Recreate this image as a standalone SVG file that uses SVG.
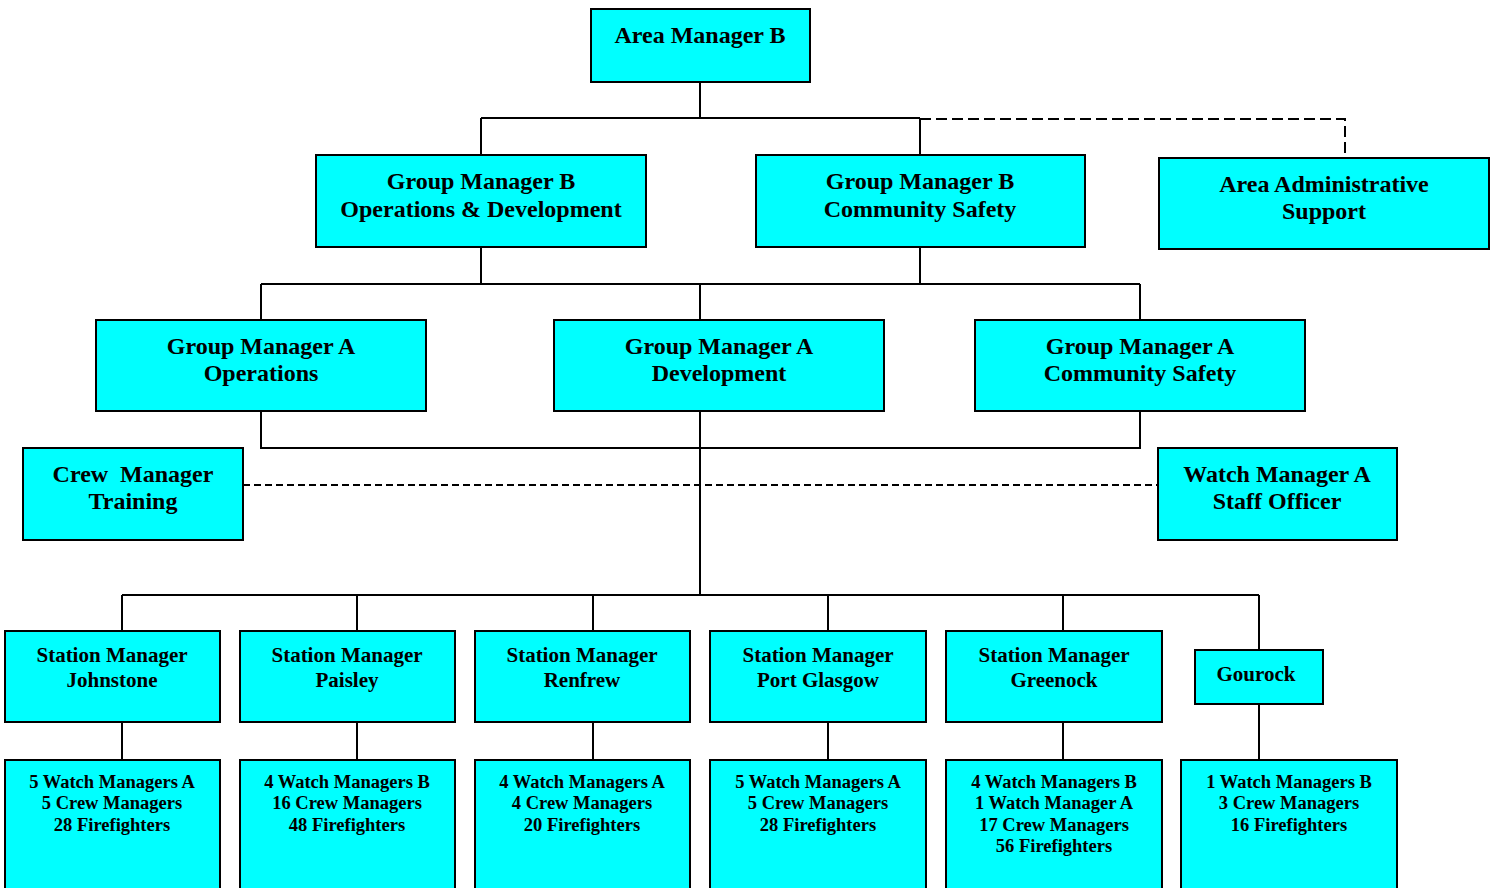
<svg xmlns="http://www.w3.org/2000/svg" width="1499" height="888" viewBox="0 0 1499 888">
<style>
.box{fill:#00ffff;stroke:#000;stroke-width:2}
text{font-family:"Liberation Serif","Times New Roman",serif;font-weight:bold;fill:#000;text-anchor:middle}
.t1{font-size:24px}
.t2{font-size:21px}
.t3{font-size:18.5px}
.ln{fill:none;stroke:#000;stroke-width:2}
.ds{fill:none;stroke:#000;stroke-width:2;stroke-dasharray:11,5}
.ds2{fill:none;stroke:#000;stroke-width:2;stroke-dasharray:7,4}
</style>
<rect width="1499" height="888" fill="#fff"/>
<g id="connectors">
<path class="ln" d="M700 82V118M481 118H920M481 118V155M920 118V155"/>
<path class="ds" d="M920 119H1345V158"/>
<path class="ln" d="M481 247V284M920 247V284M261 284H1140M261 284V320M700 284V320M1140 284V320"/>
<path class="ln" d="M261 411V448H1140V411M700 411V595"/>
<path class="ds2" d="M243 485H1158"/>
<path class="ln" d="M122 595H1259M122 595V631M357 595V631M593 595V631M828 595V631M1063 595V631M1259 595V650"/>
<path class="ln" d="M122 722V760M357 722V760M593 722V760M828 722V760M1063 722V760M1259 704V760"/>
</g>
<g id="area-manager-b"><rect class="box" x="591" y="9" width="219" height="73"/><text class="t1" x="700" y="43">Area Manager B</text></g>
<g id="gmb-ops"><rect class="box" x="316" y="155" width="330" height="92"/><text class="t1" x="481" y="189">Group Manager B</text><text class="t1" x="481" y="217">Operations &amp; Development</text></g>
<g id="gmb-cs"><rect class="box" x="756" y="155" width="329" height="92"/><text class="t1" x="920" y="189">Group Manager B</text><text class="t1" x="920" y="217">Community Safety</text></g>
<g id="area-admin"><rect class="box" x="1159" y="158" width="330" height="91"/><text class="t1" x="1324" y="192">Area Administrative</text><text class="t1" x="1324" y="219">Support</text></g>
<g id="gma-ops"><rect class="box" x="96" y="320" width="330" height="91"/><text class="t1" x="261" y="354">Group Manager A</text><text class="t1" x="261" y="381">Operations</text></g>
<g id="gma-dev"><rect class="box" x="554" y="320" width="330" height="91"/><text class="t1" x="719" y="354">Group Manager A</text><text class="t1" x="719" y="381">Development</text></g>
<g id="gma-cs"><rect class="box" x="975" y="320" width="330" height="91"/><text class="t1" x="1140" y="354">Group Manager A</text><text class="t1" x="1140" y="381">Community Safety</text></g>
<g id="crew-training"><rect class="box" x="23" y="448" width="220" height="92"/><text class="t1" x="133" y="482" xml:space="preserve">Crew  Manager</text><text class="t1" x="133" y="509">Training</text></g>
<g id="staff-officer"><rect class="box" x="1158" y="448" width="239" height="92"/><text class="t1" x="1277" y="482">Watch Manager A</text><text class="t1" x="1277" y="509">Staff Officer</text></g>
<g id="sm-johnstone"><rect class="box" x="5" y="631" width="215" height="91"/><text class="t2" x="112" y="662">Station Manager</text><text class="t2" x="112" y="687">Johnstone</text></g>
<g id="sm-paisley"><rect class="box" x="240" y="631" width="215" height="91"/><text class="t2" x="347" y="662">Station Manager</text><text class="t2" x="347" y="687">Paisley</text></g>
<g id="sm-renfrew"><rect class="box" x="475" y="631" width="215" height="91"/><text class="t2" x="582" y="662">Station Manager</text><text class="t2" x="582" y="687">Renfrew</text></g>
<g id="sm-portglasgow"><rect class="box" x="710" y="631" width="216" height="91"/><text class="t2" x="818" y="662">Station Manager</text><text class="t2" x="818" y="687">Port Glasgow</text></g>
<g id="sm-greenock"><rect class="box" x="946" y="631" width="216" height="91"/><text class="t2" x="1054" y="662">Station Manager</text><text class="t2" x="1054" y="687">Greenock</text></g>
<g id="gourock"><rect class="box" x="1195" y="650" width="128" height="54"/><text class="t2" x="1256" y="681">Gourock</text></g>
<g id="crew-johnstone"><rect class="box" x="5" y="760" width="215" height="130"/><text class="t3" x="112" y="788">5 Watch Managers A</text><text class="t3" x="112" y="809">5 Crew Managers</text><text class="t3" x="112" y="831">28 Firefighters</text></g>
<g id="crew-paisley"><rect class="box" x="240" y="760" width="215" height="130"/><text class="t3" x="347" y="788">4 Watch Managers B</text><text class="t3" x="347" y="809">16 Crew Managers</text><text class="t3" x="347" y="831">48 Firefighters</text></g>
<g id="crew-renfrew"><rect class="box" x="475" y="760" width="215" height="130"/><text class="t3" x="582" y="788">4 Watch Managers A</text><text class="t3" x="582" y="809">4 Crew Managers</text><text class="t3" x="582" y="831">20 Firefighters</text></g>
<g id="crew-portglasgow"><rect class="box" x="710" y="760" width="216" height="130"/><text class="t3" x="818" y="788">5 Watch Managers A</text><text class="t3" x="818" y="809">5 Crew Managers</text><text class="t3" x="818" y="831">28 Firefighters</text></g>
<g id="crew-greenock"><rect class="box" x="946" y="760" width="216" height="130"/><text class="t3" x="1054" y="788">4 Watch Managers B</text><text class="t3" x="1054" y="809">1 Watch Manager A</text><text class="t3" x="1054" y="831">17 Crew Managers</text><text class="t3" x="1054" y="852">56 Firefighters</text></g>
<g id="crew-gourock"><rect class="box" x="1181" y="760" width="216" height="130"/><text class="t3" x="1289" y="788">1 Watch Managers B</text><text class="t3" x="1289" y="809">3 Crew Managers</text><text class="t3" x="1289" y="831">16 Firefighters</text></g>
</svg>
